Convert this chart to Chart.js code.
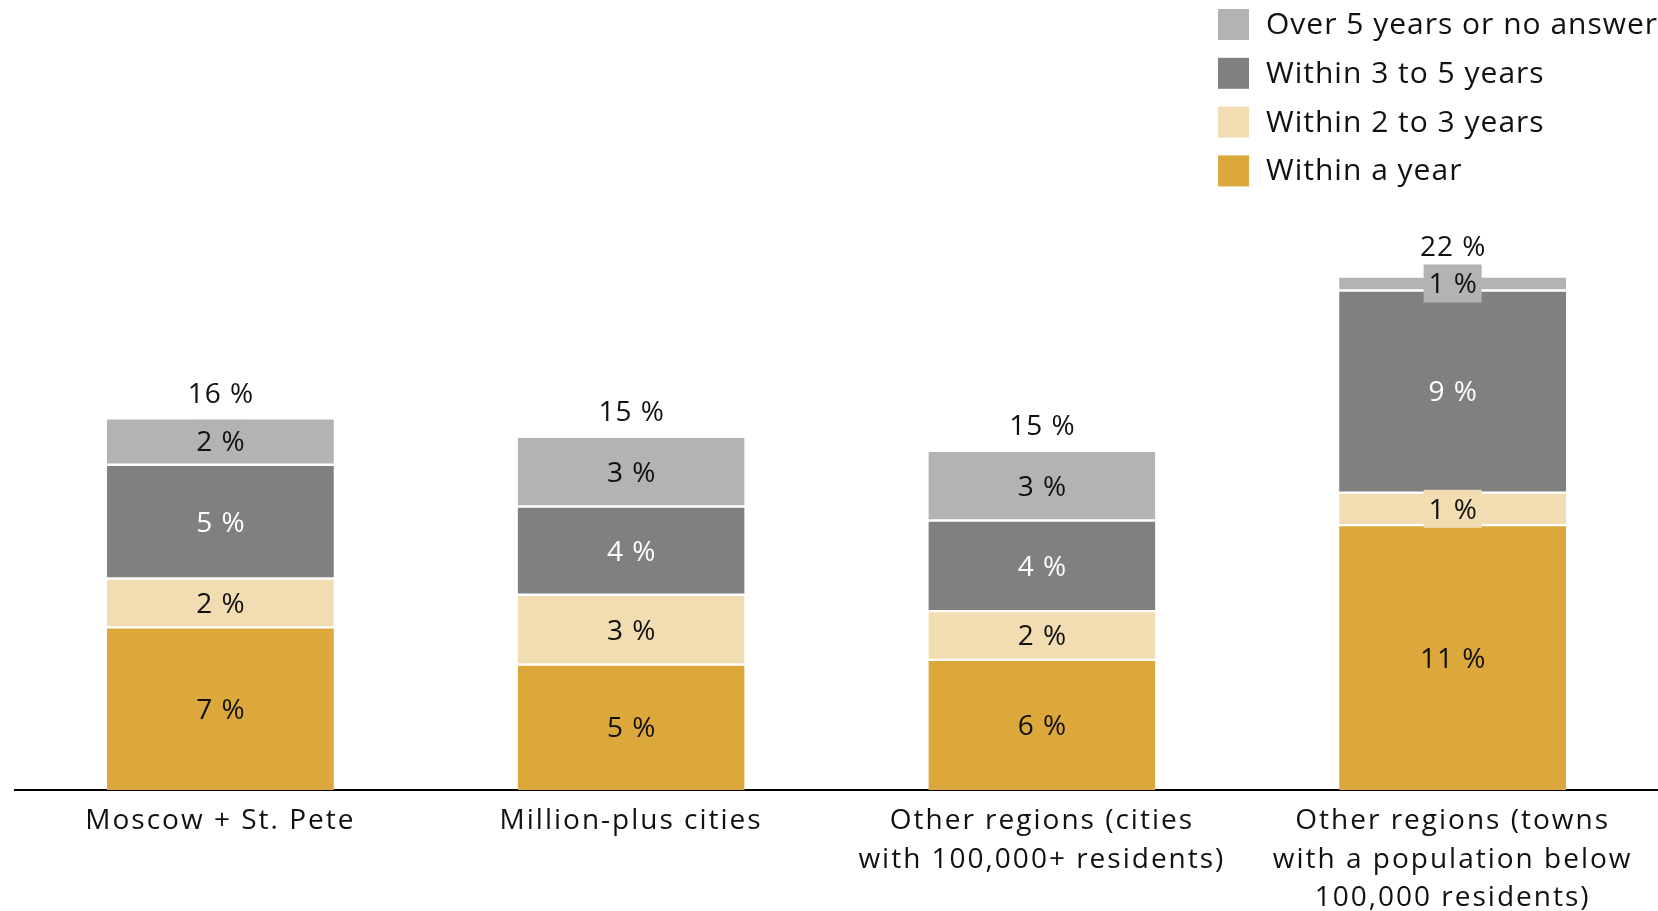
<!DOCTYPE html>
<html><head><meta charset="utf-8">
<script src="https://cdn.jsdelivr.net/npm/chart.js@4/dist/chart.umd.min.js"></script>
<style>html,body{margin:0;padding:0;background:#fff}#wrap{width:1658px;height:911px;position:relative}</style>
</head><body><div id="wrap"><canvas id="c"></canvas></div>
<script>
const categories = [
  ['Moscow + St. Pete'],
  ['Million-plus cities'],
  ['Other regions (cities', 'with 100,000+ residents)'],
  ['Other regions (towns', 'with a population below', '100,000 residents)']
];
const seriesNames = ['Within a year', 'Within 2 to 3 years', 'Within 3 to 5 years', 'Over 5 years or no answer'];
const withinYear = [7.0, 5.4, 5.6, 11.4];
const within2to3 = [2.1, 3.0, 2.1, 1.4];
const within3to5 = [4.9, 3.8, 3.9, 8.7];
const over5 = [2.0, 3.0, 3.0, 0.6];
const seriesValues = [withinYear, within2to3, within3to5, over5];
const colors = ['#dca83c', '#f2dcb2', '#808080', '#b3b3b3'];
const labelColors = ['#111111', '#111111', '#ffffff', '#111111'];
const FONT = '"Open Sans"';

const fmt = v => Math.round(v) + ' %';

const spacingPlugin = {
  id: 'spacing',
  beforeDraw(chart) { chart.ctx.letterSpacing = '2px'; }
};

const labelPlugin = {
  id: 'segLabels',
  afterDatasetsDraw(chart) {
    const ctx = chart.ctx;
    ctx.save();
    ctx.letterSpacing = '1px';
    ctx.font = '28px ' + FONT;
    ctx.textAlign = 'center';
    ctx.textBaseline = 'middle';
    const n = chart.data.labels.length;
    const tops = new Array(n).fill(Infinity);
    const sums = new Array(n).fill(0);
    chart.data.datasets.forEach((ds, di) => {
      const meta = chart.getDatasetMeta(di);
      meta.data.forEach((bar, i) => {
        const v = ds.data[i];
        sums[i] += v;
        const cy = (bar.y + bar.base) / 2;
        const bw = 58, bh = 38;
        ctx.fillStyle = ds.backgroundColor;
        ctx.fillRect(bar.x - bw / 2, cy - bh / 2, bw, bh);
        ctx.fillStyle = labelColors[di];
        ctx.fillText(fmt(v), bar.x + 0.5, cy + 2);
        tops[i] = Math.min(tops[i], bar.y - 26, cy - bh / 2 - 19);
      });
    });
    const meta0 = chart.getDatasetMeta(0);
    ctx.fillStyle = '#111111';
    meta0.data.forEach((bar, i) => {
      ctx.fillText(fmt(sums[i]), bar.x + 0.5, tops[i] + 2.5);
    });
    ctx.restore();
  }
};

const legendPlugin = {
  id: 'vLegend',
  afterDraw(chart) {
    const ctx = chart.ctx;
    ctx.save();
    ctx.letterSpacing = '1px';
    ctx.font = '30px ' + FONT;
    ctx.textAlign = 'left';
    ctx.textBaseline = 'middle';
    const dsets = chart.data.datasets.slice().reverse();
    dsets.forEach((ds, k) => {
      const cy = 24.5 + k * 48.8;
      ctx.fillStyle = ds.backgroundColor;
      ctx.fillRect(1218, cy - 15.5, 31, 31);
      ctx.fillStyle = '#111111';
      ctx.fillText(ds.label, 1266, cy + 1);
    });
    ctx.restore();
  }
};

const datasets = seriesNames.map((name, i) => ({
  label: name,
  data: seriesValues[i],
  backgroundColor: colors[i],
  borderColor: '#ffffff',
  borderWidth: i === 0 ? {top: 1.2, bottom: 0, left: 0, right: 0} : {top: 1.2, bottom: 1.2, left: 0, right: 0},
  borderSkipped: false,
  barPercentage: 0.5526,
  categoryPercentage: 1.0
}));

new Chart(document.getElementById('c'), {
  type: 'bar',
  data: { labels: categories, datasets },
  options: {
    responsive: true,
    maintainAspectRatio: false,
    animation: false,
    layout: { padding: { top: 0, left: 15, right: 0, bottom: 0 } },
    plugins: { legend: { display: false }, tooltip: { enabled: false } },
    scales: {
      x: {
        stacked: true,
        grid: { display: false, drawTicks: false },
        border: { display: true, color: '#000000', width: 2 },
        ticks: {
          color: '#111111',
          padding: 12,
          maxRotation: 0,
          autoSkip: false,
          font: { family: FONT, size: 28, lineHeight: 38.5 / 28 }
        },
        afterFit(scale) { scale.height = 121; }
      },
      y: {
        stacked: true,
        display: false,
        min: 0,
        max: 34
      }
    }
  },
  plugins: [spacingPlugin, labelPlugin, legendPlugin]
});
</script>
</body></html>
